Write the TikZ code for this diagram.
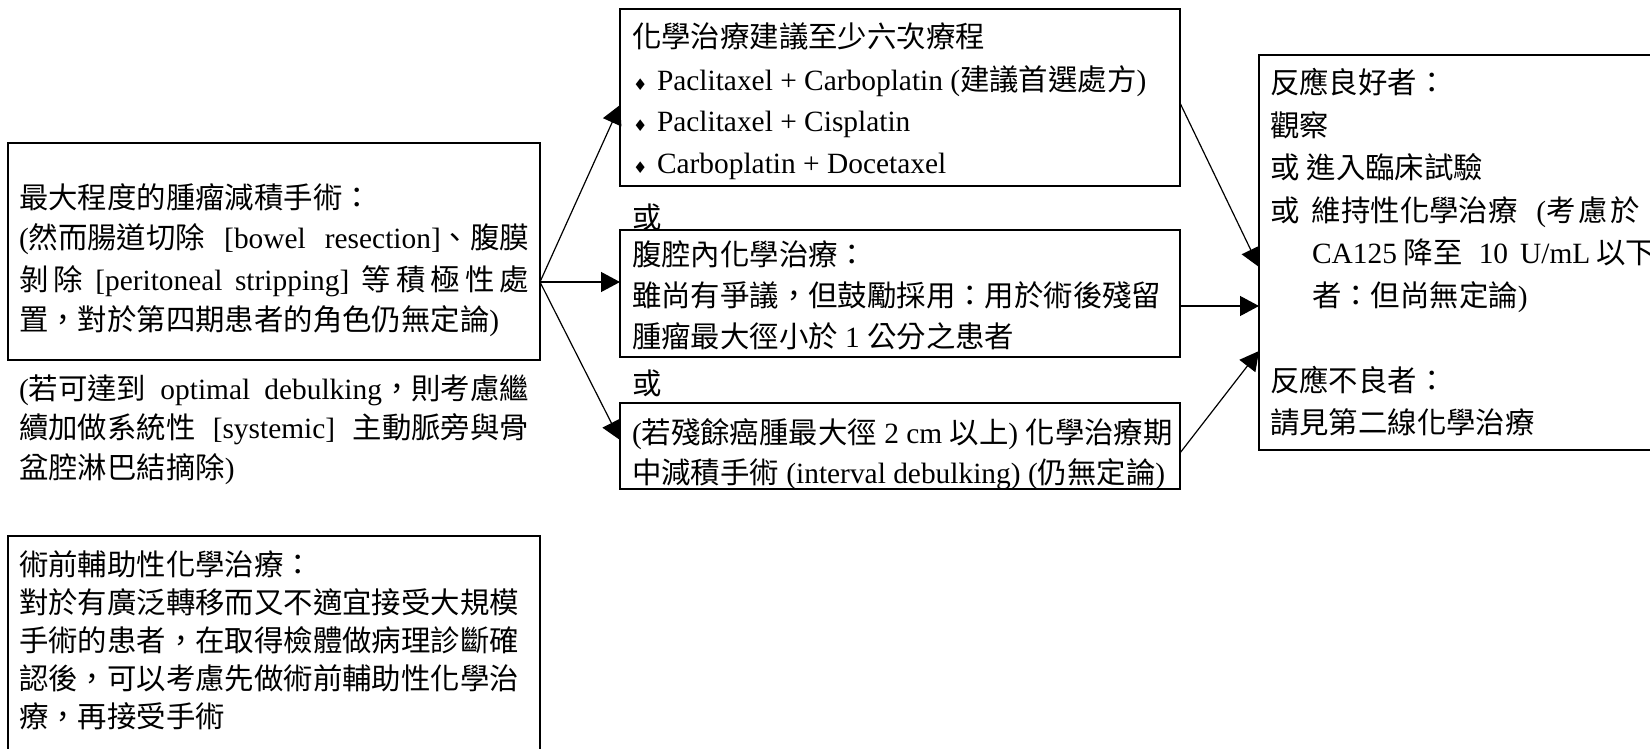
\documentclass[tikz,border=0pt]{standalone}
\usepackage{fontspec}
\setmainfont{Liberation Serif}
\newfontfamily\cjkf{Noto Sans CJK TC}
\newfontfamily\symf{DejaVu Sans}
\usetikzlibrary{arrows.meta,fit}
\newcommand\zh[1]{{\cjkf #1}}
\newcommand\G{\hskip 0pt plus 1fil\relax}
\newcommand\GGG{\hskip 0pt plus 4fil\relax}
\newcommand\Row[1]{\hbox{#1}}
\newcommand\block[2]{\vtop{\baselineskip=#1\lineskiplimit=-\maxdimen #2}}
\newcommand\bul{\makebox[12.5pt][l]{\hspace{0.5pt}{\symf\fontsize{8pt}{8pt}\selectfont ♦}}}
\tikzset{
  box/.style={draw, line width=1.2pt, inner sep=0pt, outer sep=0pt},
  txt/.style={inner sep=0pt, outer sep=0pt, anchor=base west, font=\fontsize{14.7pt}{18pt}\selectfont},
  arr/.style={line width=0.6pt, -{Triangle[length=9.5pt,width=10pt]}}
}
\begin{document}
\begin{tikzpicture}[x=0.5pt,y=-0.5pt]
\useasboundingbox (0,0) rectangle (1650,749);
\clip (0,0) rectangle (1650,749);
% boxes
\node[box, fit={(8,143)(540,360)}] (b1) {};
\node[box, fit={(8,536)(540,800)}] (b6) {};
\node[box, fit={(620,9)(1180,186)}] (b2) {};
\node[box, fit={(620,230)(1180,357)}] (b3) {};
\node[box, fit={(620,403)(1180,489)}] (b4) {};
\node[box, fit={(1259,55)(1700,450)}] (b5) {};
% texts
\node[txt] (t1) at (19,208) {\block{20.5pt}{%
\Row{\zh{最大程度的腫瘤減積手術：}}
\Row{\makebox[255pt][s]{(\zh{然而腸道切除} [bowel resection]\zh{、腹膜}}}
\Row{\makebox[255pt][s]{\zh{剝}\G\zh{除}\G\ [peritoneal\G\ stripping]\G\ \zh{等}\G\zh{積}\G\zh{極}\G\zh{性}\G\zh{處}}}
\Row{\zh{置，對於第四期患者的角色仍無定論})}}};
\node[txt] (t1b) at (19,399) {\block{19.75pt}{%
\Row{\makebox[255pt][s]{(\zh{若可達到} optimal debulking\zh{，則考慮繼}}}
\Row{\makebox[255pt][s]{\zh{續加做系統性} [systemic] \zh{主動脈旁與骨}}}
\Row{\zh{盆腔淋巴結摘除})}}};
\node[txt] (t6) at (19,575) {\block{19pt}{%
\Row{\zh{術前輔助性化學治療：}}
\Row{\zh{對於有廣泛轉移而又不適宜接受大規模}}
\Row{\zh{手術的患者，在取得檢體做病理診斷確}}
\Row{\zh{認後，可以考慮先做術前輔助性化學治}}
\Row{\zh{療，再接受手術}}}};
\node[txt] (t2) at (632,48) {\block{21pt}{%
\Row{\zh{化學治療建議至少六次療程}}
\Row{\bul Paclitaxel + Carboplatin (\zh{建議首選處方})}
\Row{\bul Paclitaxel + Cisplatin}
\Row{\bul Carboplatin + Docetaxel}}};
\node[txt] (or1) at (632,228) {\zh{或}};
\node[txt] (t3) at (632,265) {\block{20.5pt}{%
\Row{\zh{腹腔內化學治療：}}
\Row{\zh{雖尚有爭議，但鼓勵採用：用於術後殘留}}
\Row{\zh{腫瘤最大徑小於} 1 \zh{公分之患者}}}};
\node[txt] (or2) at (632,394) {\zh{或}};
\node[txt] (t4) at (632,443) {\block{20pt}{%
\Row{(\zh{若殘餘癌腫最大徑} 2 cm \zh{以上}) \zh{化學治療期}}
\Row{\zh{中減積手術} (interval debulking) (\zh{仍無定論})}}};
\node[txt] (t5) at (1270,94) {\block{21.25pt}{%
\Row{\zh{反應良好者：}}
\Row{\zh{觀察}}
\Row{\zh{或} \zh{進入臨床試驗}}
\Row{\makebox[21pt][l]{\zh{或}}\makebox[164pt][s]{\zh{維持性化學治療}\GGG\ (\zh{考}\G\zh{慮}\G\zh{於}}}
\Row{\hspace*{21pt}CA125\hspace{3.5pt}\zh{降至}\hspace{8pt}10\hspace{6pt}U/mL\hspace{3pt}\zh{以下}}
\Row{\hspace*{21pt}\zh{者：但尚無定論})}
\Row{}
\Row{\zh{反應不良者：}}
\Row{\zh{請見第二線化學治療}}}};
% connectors
\coordinate (fork) at (b1.east |- 0,282);
\draw[arr] (fork) -- (b2.west |- 0,105);
\draw[arr] (fork) -- (b3.west |- fork);
\draw[arr] (fork) -- (b4.west |- 0,440);
\draw[arr] (b2.east |- 0,103) -- (b5.west |- 0,267);
\draw[arr] (b3.east |- 0,306) -- (b5.west |- 0,306);
\draw[arr] (b4.east |- 0,453) -- (b5.west |- 0,351);
\end{tikzpicture}
\end{document}
